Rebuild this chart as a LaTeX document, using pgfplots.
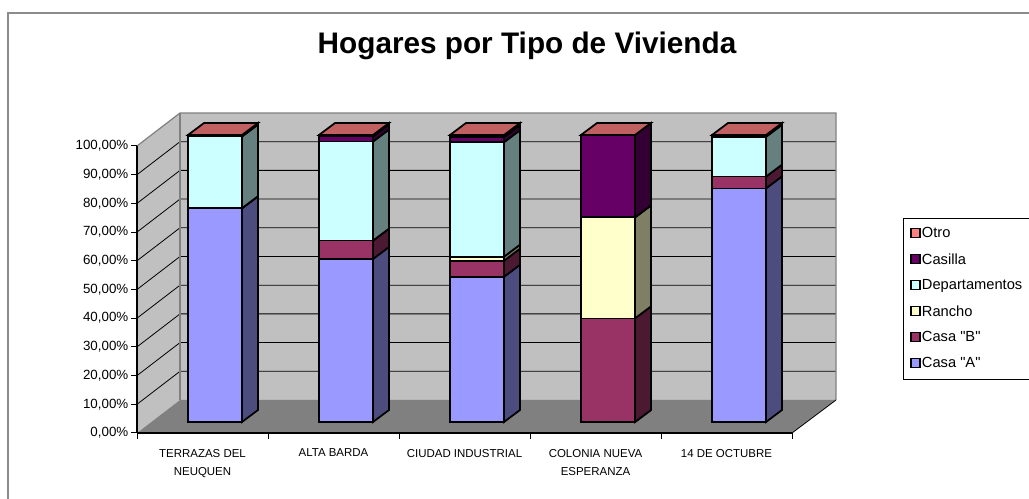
\documentclass[border=0pt]{standalone}
\usepackage{fontspec}
\setmainfont{Liberation Sans}
\usepackage{pgfplots}
\usepackage{pgfplotstable}
\pgfplotsset{compat=1.18}

\definecolor{casaA}{HTML}{9999FF}
\definecolor{casaAs}{HTML}{4C4C7F}
\definecolor{casaB}{HTML}{993366}
\definecolor{casaBs}{HTML}{4C1933}
\definecolor{rancho}{HTML}{FFFFCC}
\definecolor{ranchos}{HTML}{7F7F66}
\definecolor{depto}{HTML}{CCFFFF}
\definecolor{deptos}{HTML}{667F7F}
\definecolor{casilla}{HTML}{660066}
\definecolor{casillas}{HTML}{330033}
\definecolor{otro}{HTML}{FF8080}
\definecolor{otros}{HTML}{7F4040}
\definecolor{otrot}{HTML}{C06060}
\definecolor{wallc}{HTML}{C0C0C0}
\definecolor{floorc}{HTML}{808080}
\definecolor{framec}{HTML}{8C8C8C}

% share (%) of households by dwelling type
\pgfplotstableread{
idx CasaA CasaB Rancho Depto Casilla Otro
0   74.5  0     0      25.0  0       0.5
1   56.8  6.4   0      34.5  1.8     0.5
2   50.6  5.6   1.4    39.9  1.7     0.8
3   0     36.1  35.2   0     28.7    0
4   81.4  4.1   0      13.9  0       0.6
}\datatable

\pgfplotsset{
  leg/.style={legend image code/.code={\draw[##1, line width=0.9pt] (0pt,-2.6pt) rectangle (6.75pt,4.15pt);}},
}

\begin{document}
\begin{tikzpicture}
\begin{scope}[x=0.75pt, y=-0.75pt, yshift=374.25pt]
  \path[use as bounding box] (0,0) rectangle (1029,499);
  % frame
  \draw[framec, line width=1pt] (8,505) -- (8,13) -- (1040,13);
  % title
  \node[anchor=base, font=\fontsize{22.3}{26}\selectfont\bfseries] at (527,54) {Hogares por Tipo de Vivienda};
  % walls and floor
  \fill[wallc] (137,433) -- (137,146) -- (180,113) -- (180,400) -- cycle;
  \fill[wallc] (180,113) rectangle (836,400);
  \fill[floorc] (137,433) -- (180,400) -- (836,400) -- (792,433) -- cycle;
  \foreach \v in {10,20,...,90}{
    \draw[black, line width=0.6pt] (137,{433-2.87*\v}) -- (180,{400-2.87*\v}) -- (836,{400-2.87*\v});
  }
  \draw[floorc, line width=0.9pt] (137,146) -- (180,113) -- (836,113) -- (836,400);
  \draw[floorc, line width=0.9pt] (180,113) -- (180,400);
  \draw[black, line width=0.6pt] (836,400) -- (792,433);
\end{scope}

% front plane: axis lines, ticks and labels
\begin{axis}[
  x=98.25pt, y=2.1525pt,
  xmin=-0.5, xmax=4.5, ymin=0, ymax=100,
  anchor=origin, at={(151.875pt,49.5pt)},
  axis x line*=bottom, axis y line*=left,
  axis line style={black, line width=0.8pt},
  tick align=outside, major tick length=4.5pt,
  tick style={black, line width=0.75pt},
  xtick={-0.5,0.5,1.5,2.5,3.5,4.5},
  xticklabels={,,,,,},
  extra x ticks={0,1,2,3,4},
  extra x tick labels={{TERRAZAS DEL\\NEUQUEN},{ALTA BARDA},{CIUDAD INDUSTRIAL},{COLONIA NUEVA\\ESPERANZA},{14 DE OCTUBRE}},
  extra x tick style={major tick length=0pt},
  xticklabel style={align=center, font=\fontsize{8.6}{13.5}\selectfont, yshift=-8.5pt},
  ytick={0,10,...,100},
  /pgf/number format/assume math mode=true,
  yticklabel={\pgfmathprintnumber[fixed,fixed zerofill,precision=2,use comma]{\tick}\%},
  yticklabel style={font=\fontsize{10}{12}\selectfont, xshift=1.5pt},
  clip=false,
]
\end{axis}

% front faces of the stacked bars
\begin{axis}[
  x=98.25pt, y=2.1525pt,
  xmin=-0.5, xmax=4.5, ymin=0, ymax=100,
  anchor=origin, at={(161.25pt,57.75pt)},
  hide axis, clip=false,
  ybar stacked, bar width=40.5pt,
  every axis plot/.append style={draw=black, line width=1.3pt},
  reverse legend,
  legend cell align=left,
  legend style={at={(axis description cs:1.1504,0.7112)}, anchor=north west, overlay,
    draw=black, line width=0.75pt, font=\fontsize{11}{12}\selectfont,
    nodes={inner xsep=1pt},
    inner xsep=5.2pt, inner ysep=5pt, row sep=6.2pt},
]
\addplot[fill=casaA, leg] table[x=idx, y=CasaA] {\datatable};
\addlegendentry{Casa \textquotedbl A\textquotedbl}
\addplot[fill=casaB, leg] table[x=idx, y=CasaB] {\datatable};
\addlegendentry{Casa \textquotedbl B\textquotedbl}
\addplot[fill=rancho, leg] table[x=idx, y=Rancho] {\datatable};
\addlegendentry{Rancho}
\addplot[fill=depto, leg] table[x=idx, y=Depto] {\datatable};
\addlegendentry{Departamentos}
\addplot[fill=casilla, leg] table[x=idx, y=Casilla] {\datatable};
\addlegendentry{Casilla}
\addplot[fill=otro, leg] table[x=idx, y=Otro] {\datatable};
\addlegendentry{Otro}
\end{axis}

% side and top faces (3-D depth) from the same data
\begin{axis}[
  x=98.25pt, y=2.1525pt,
  xmin=-0.5, xmax=4.5, ymin=0, ymax=100,
  anchor=origin, at={(161.25pt,57.75pt)},
  hide axis, clip=false,
  every axis plot/.append style={draw=black, line width=1.3pt},
]
\pgfplotsforeachungrouped \j in {0,1,2,3,4}{%
  \def\cum{0}%
  \pgfplotsforeachungrouped \k in {1,2,3,4,5,6}{%
    \ifcase\k\or\def\s{CasaA}\def\c{casaAs}%
    \or\def\s{CasaB}\def\c{casaBs}%
    \or\def\s{Rancho}\def\c{ranchos}%
    \or\def\s{Depto}\def\c{deptos}%
    \or\def\s{Casilla}\def\c{casillas}%
    \or\def\s{Otro}\def\c{otros}\fi
    \pgfplotstablegetelem{\j}{\s}\of\datatable
    \pgfmathsetmacro\hi{\cum+\pgfplotsretval}%
    \pgfmathsetmacro\hiB{\hi+4.181}%
    \pgfmathsetmacro\loB{\cum+4.181}%
    \pgfmathsetmacro\xa{\j+0.2061}%
    \pgfmathsetmacro\xb{\j+0.3282}%
    \edef\cmd{\noexpand\addplot[fill=\c] coordinates {(\xa,\cum) (\xb,\loB) (\xb,\hiB) (\xa,\hi)} -- cycle;}%
    \cmd
    \let\cum\hi
  }%
  \pgfmathsetmacro\xl{\j-0.2061}%
  \pgfmathsetmacro\xlb{\j-0.0840}%
  \edef\cmd{\noexpand\addplot[fill=otrot] coordinates {(\xl,\cum) (\xa,\cum) (\xb,\hiB) (\xlb,\hiB)} -- cycle;}%
  \cmd
}
\end{axis}
\end{tikzpicture}
\end{document}
